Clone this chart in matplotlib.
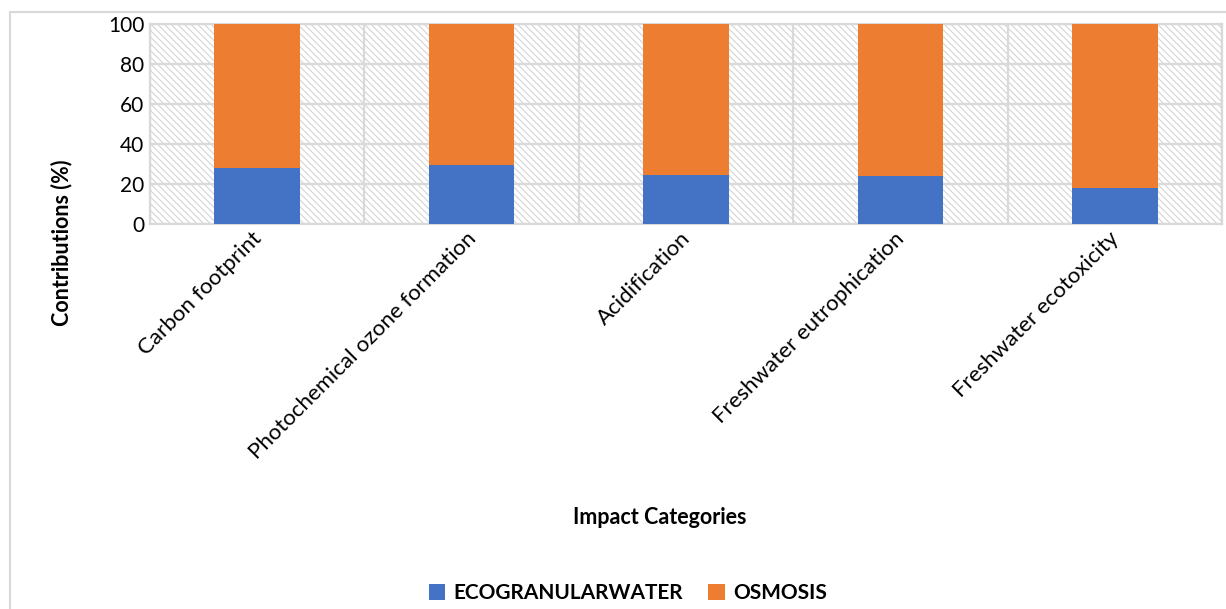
import matplotlib.pyplot as plt
from matplotlib.patches import Rectangle
from matplotlib.ticker import FixedLocator
from matplotlib.transforms import ScaledTranslation

# data
categories = ["Carbon footprint", "Photochemical ozone formation", "Acidification",
              "Freshwater eutrophication", "Freshwater ecotoxicity"]
ecogranular = [28, 29.3, 24.3, 23.8, 18]
osmosis = [100 - v for v in ecogranular]
yticks = [0, 20, 40, 60, 80, 100]

BLUE = "#4472c4"
ORANGE = "#ed7d31"
GRID = "#d9d9d9"

plt.rcParams['font.family'] = ['Lato', 'DejaVu Sans']
plt.rcParams['hatch.linewidth'] = 0.8

W, H = 1226, 609
fig = plt.figure(figsize=(W / 100, H / 100), dpi=100)
ax = fig.add_axes([150 / W, 1 - 224 / H, (1222 - 150) / W, 200 / H])

# outer chart border (light gray, cut off at right/bottom like the source)
fig.patches.append(Rectangle((10 / W, -0.05), 1.1, 1 - 12 / H + 0.05,
                             transform=fig.transFigure, fill=False,
                             edgecolor=GRID, linewidth=1.5, zorder=0))

# hatched plot background
ax.add_patch(Rectangle((0, 0), 1, 1, transform=ax.transAxes, facecolor='white',
                       edgecolor='#d4d4d4', linewidth=0, hatch='\\\\\\\\\\', zorder=0))

x = list(range(len(categories)))
ax.bar(x, ecogranular, width=0.40, color=BLUE, zorder=3, label="ECOGRANULARWATER")
ax.bar(x, osmosis, width=0.40, bottom=ecogranular, color=ORANGE, zorder=3, label="OSMOSIS")

ax.set_xlim(-0.5, len(categories) - 0.5)
ax.set_ylim(0, 100)
ax.set_yticks(yticks)
ax.set_xticks(x)
ax.set_xticklabels(categories, rotation=45, ha='right', rotation_mode='anchor', fontsize=16)
ax.xaxis.set_minor_locator(FixedLocator([i + 0.5 for i in range(-1, len(categories))]))
ax.tick_params(axis='both', which='both', length=0)
ax.tick_params(axis='y', labelsize=15, pad=4)
ax.tick_params(axis='x', pad=3)

# nudge the rotated labels a little to the left, like the source
shift = ScaledTranslation(-6 / 100, 0, fig.dpi_scale_trans)
for lbl in ax.get_xticklabels():
    lbl.set_transform(lbl.get_transform() + shift)

ax.grid(axis='y', which='major', color=GRID, linewidth=1.6, zorder=1)
ax.grid(axis='x', which='minor', color=GRID, linewidth=1.6, zorder=1)
ax.set_axisbelow(True)
for s in ax.spines.values():
    s.set_color(GRID)
    s.set_linewidth(1.6)

fig.text(62 / W, 1 - 243 / H, "Contributions (%)", rotation=90, ha='center', va='center',
         fontsize=15.5, fontweight='bold')
fig.text(660 / W, 1 - 517 / H, "Impact Categories", ha='center', va='center',
         fontsize=15.5, fontweight='bold')

leg = fig.legend(loc='center', bbox_to_anchor=(628 / W, 1 - 593 / H), ncol=2, frameon=False,
                 prop={'size': 15, 'weight': 'bold'}, handlelength=0.8, handleheight=0.8,
                 handletextpad=0.4, columnspacing=1.2)

fig.savefig("out.png", dpi=100)
